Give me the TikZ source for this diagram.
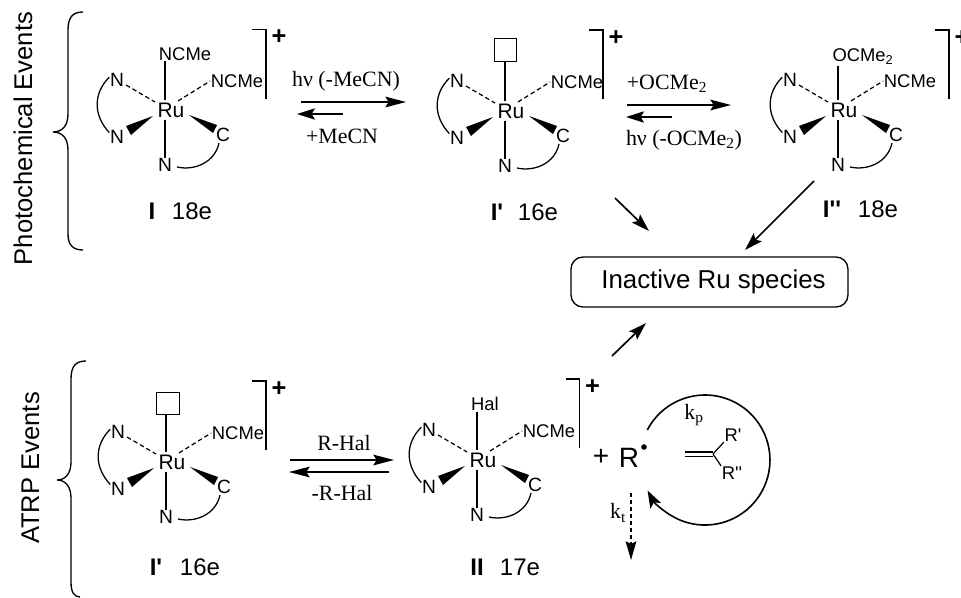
\documentclass[tikz,border=0pt]{standalone}
\usepackage{fontspec}
\usetikzlibrary{arrows.meta,calc}
\newfontfamily\arialf{Liberation Sans}
\newfontfamily\camf{Liberation Serif}
\tikzset{
  atom/.style={inner sep=0.4pt,font=\arialf\fontsize{13.8}{15}\selectfont},
  donor/.style={inner sep=0.4pt,font=\arialf\fontsize{14.4}{15}\selectfont},
  metal/.style={inner sep=0pt,font=\arialf\fontsize{15.75}{17}\selectfont},
  vacant/.style={draw,line width=0.9pt,minimum size=17pt,inner sep=0pt},
  tag/.style={inner sep=0pt,font=\arialf\fontsize{18}{20}\selectfont},
  charge/.style={inner sep=0pt,font=\arialf\bfseries\fontsize{19}{20}\selectfont},
  condition/.style={inner sep=0pt,font=\camf\fontsize{16.4}{18}\selectfont},
  sidelabel/.style={rotate=90,anchor=base,inner sep=0pt,font=\arialf\fontsize{19.2}{21}\selectfont},
  bond/.style={line width=0.9pt},
  dashbond/.style={line width=0.9pt,dash pattern=on 3.4pt off 2.2pt},
  chelate/.style={line width=0.95pt},
  bracket/.style={line width=1pt},
  brace/.style={line width=1pt},
  bigarrow/.style={line width=1.25pt,-{Stealth[length=15.5pt,width=8pt,inset=2.5pt]}},
  midarrow/.style={line width=1.25pt,-{Stealth[length=13.5pt,width=8.5pt,inset=2.5pt]}},
}
% #1 prefix, #2 position, #3 top style, #4 top text, #5 top offset
\newcommand{\rumol}[5]{%
\begin{scope}[shift={(#2)}]
  \node[metal] (#1-Ru) at (0,0) {Ru};
  \node[donor] (#1-Ntl) at (-54,-30) {N};
  \node[donor] (#1-Nbl) at (-54,27) {N};
  \node[donor] (#1-C) at (52,25) {C};
  \node[donor] (#1-Nb) at (-6,55) {N};
  \node[atom] (#1-R) at (66,-29) {NCMe};
  \node[#3] (#1-T) at (#5) {#4};
  \draw[bond,shorten >=1.5pt] (#1-T.south -| #1-Nb.north) -- (#1-Ru.north -| #1-Nb.north);
  \draw[bond,shorten <=1.5pt] (#1-Ru.south -| #1-Nb.north) -- (#1-Nb.north);
  \draw[dashbond] (#1-Ntl) ++(9,5) -- ($(#1-Ru)+(-16,-8)$);
  \draw[dashbond] ($(#1-Ru)+(7,-9)$) -- (#1-R.west);
  \fill ($(#1-Ru)+(-18,6)$) -- (-45,16) -- (-40,25) -- cycle;
  \fill ($(#1-Ru)+(18,5)$) -- (46,15) -- (42,23) -- cycle;
  \draw[chelate] (#1-Ntl.160) .. controls +(-16,16) and (-78,5) .. (#1-Nbl.150);
  \draw[chelate] (6,57) .. controls (24,61) and (44,52) .. (48,33);
\end{scope}}
\newcommand{\brk}[3]{\draw[bracket] (#1,#2) -- ++(14,0) -- ++(0,69); \node[charge] at ($(#1,#2)+(27,8)$) {#3};}
\begin{document}
\begin{tikzpicture}[x=0.75pt,y=-0.75pt]
\useasboundingbox (0,0) rectangle (961,597);

% side labels
\node[sidelabel] (lab1) at (32,138.5) {Photochemical Events};
\node[sidelabel] (lab2) at (39,468) {ATRP Events};

% braces
\draw[brace] (83,12) .. controls (73,12) and (68,17) .. (68,30) -- (68,114) .. controls (68,126) and (62,132) .. (53,132)
  .. controls (62,132) and (68,138) .. (68,150) -- (68,234) .. controls (68,245) and (73,250) .. (83,250);
\draw[brace] (86,361) .. controls (76,361) and (71,366) .. (71,379) -- (71,462) .. controls (71,474) and (65,480) .. (57,480)
  .. controls (65,480) and (71,486) .. (71,498) -- (71,582) .. controls (71,592) and (74,597) .. (80,597);

% molecules
\rumol{a}{171,110}{atom}{NCMe}{14,-56}
\rumol{b}{511,111}{vacant}{}{-5.5,-61}
\rumol{c}{844,110}{atom}{OCMe\textsubscript{2}}{19,-53}
\rumol{d}{172,462}{vacant}{}{-4,-58.5}
\rumol{e}{483,460}{atom}{Hal}{2,-56}

% brackets and charges
\brk{252}{29.5}{+}
\brk{589}{30}{+}
\brk{935}{30}{+}
\brk{252}{381}{+}
\brk{565.5}{379}{+}

% molecule labels
\node[tag] (la) at (152,211) {\textbf{I}};
\node[tag] (la2) at (192,211) {18e};
\node[tag] (lb) at (497,212) {\textbf{I'}};
\node[tag] (lb2) at (538,212) {16e};
\node[tag] (lc) at (832,209) {\textbf{I''}};
\node[tag] (lc2) at (878,209) {18e};
\node[tag] (ld) at (156,567) {\textbf{I'}};
\node[tag] (ld2) at (200,567) {16e};
\node[tag] (le) at (477,567) {\textbf{II}};
\node[tag] (le2) at (520,567) {17e};

% equilibrium arrows
\coordinate (p1s) at (301,102); \coordinate (p1e) at (406,102);
\coordinate (p2s) at (343,114); \coordinate (p2e) at (297,114);
\draw[bigarrow] (p1s) -- (p1e);
\draw[midarrow] (p2s) -- (p2e);
\node[condition] (t1) at (346,81) {hν (-MeCN)};
\node[condition] (t2) at (342,136) {+MeCN};

\coordinate (p3s) at (627,105); \coordinate (p3e) at (731,105);
\coordinate (p4s) at (672,117); \coordinate (p4e) at (626,117);
\draw[bigarrow] (p3s) -- (p3e);
\draw[midarrow] (p4s) -- (p4e);
\node[condition] (t3) at (667,84) {+OCMe\textsubscript{2}};
\node[condition] (t4) at (684,140) {hν (-OCMe\textsubscript{2})};

\coordinate (p5s) at (290,460); \coordinate (p5e) at (394,460);
\coordinate (p6s) at (389,472); \coordinate (p6e) at (289,472);
\draw[bigarrow] (p5s) -- (p5e);
\draw[bigarrow] (p6s) -- (p6e);
\node[condition] (t5) at (344,443) {R-Hal};
\node[condition] (t6) at (342,493) {-R-Hal};

% inactive species
\node[draw,line width=1pt,rounded corners=9pt,minimum width=207.75pt,minimum height=37.5pt,inner sep=0pt,
      font=\arialf\fontsize{19.4}{21}\selectfont] (box) at (709.5,282) {\hspace*{6pt}\raisebox{-1.5pt}{Inactive Ru species}};
\coordinate (q1s) at (615,198); \coordinate (q1e) at (649,231);
\coordinate (q2s) at (814,181); \coordinate (q2e) at (745,250);
\coordinate (q3s) at (612,356); \coordinate (q3e) at (646,323);
\draw[midarrow] (q1s) -- (q1e);
\draw[midarrow] (q2s) -- (q2e);
\draw[midarrow] (q3s) -- (q3e);

% radical
\node[inner sep=0pt,font=\arialf\fontsize{21}{23}\selectfont] (plus) at (601,457) {+};
\node[inner sep=0pt,font=\arialf\fontsize{21}{23}\selectfont] (rad) at (629,458) {R};
\node[circle,fill,inner sep=0pt,minimum size=4.2pt] (dot) at (644,447) {};
\coordinate (k1s) at (631,493); \coordinate (k1e) at (631,560);
\draw[line width=0.9pt,dash pattern=on 3pt off 2.2pt,-{Stealth[length=14pt,width=8pt,inset=2pt]}] (k1s) -- (k1e);
\node[condition] (kt) at (618,513) {k\textsubscript{t}};
\coordinate (c1s) at (647.3,430);
\draw[line width=1.2pt,-{Stealth[length=13pt,width=9pt,inset=3pt]}] (c1s) arc[start angle=152.5,end angle=-152,radius=48.75pt];
\node[condition] (kp) at (694,415) {k\textsubscript{p}};
\node[atom] (r1) at (733,435) {R'};
\node[atom] (r2) at (732,473) {R''};
\coordinate (al1) at (685,452); \coordinate (al2) at (713,452);
\coordinate (al3) at (685,456.5); \coordinate (al4) at (713,456.5);
\coordinate (alj) at (713,454);
\draw[bond] (al1) -- (al2);
\draw[bond] (al3) -- (al4);
\draw[bond] (alj) -- (r1.south west);
\draw[bond] (alj) -- (r2.north west);
\end{tikzpicture}
\end{document}
